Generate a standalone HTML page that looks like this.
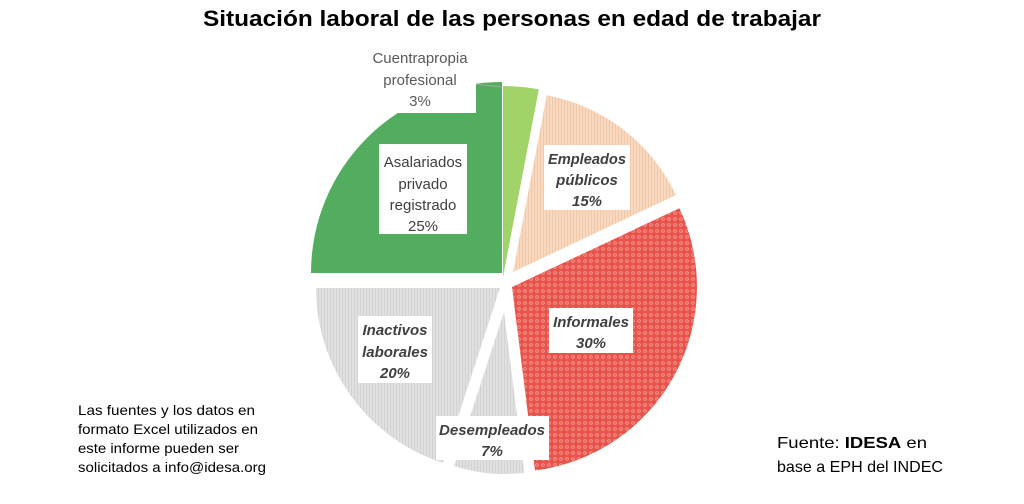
<!DOCTYPE html>
<html><head><meta charset="utf-8"><style>
html,body{margin:0;padding:0;background:#fff;width:1024px;height:504px;overflow:hidden}
text{font-family:"Liberation Sans",sans-serif}
</style></head><body>
<svg width="1024" height="504" viewBox="0 0 1024 504" xmlns="http://www.w3.org/2000/svg">
<defs>
<pattern id="red" width="6" height="6" patternUnits="userSpaceOnUse">
<rect width="6" height="6" fill="#E8544C"/>
<circle cx="3" cy="3" r="1.3" fill="none" stroke="#F6B0A8" stroke-width="0.7"/>
</pattern>
<pattern id="gray" width="3" height="3" patternUnits="userSpaceOnUse">
<rect width="3" height="3" fill="#E0E0E0"/><rect width="1" height="3" fill="#D2D2D2"/>
</pattern>
<pattern id="peach" width="3" height="3" patternUnits="userSpaceOnUse">
<rect width="3" height="3" fill="#F8D8BE"/><rect width="1" height="3" fill="#F0C8A8"/>
</pattern>
</defs>
<text x="512" y="26" text-anchor="middle" font-size="22" font-weight="bold" fill="#000" textLength="618" lengthAdjust="spacingAndGlyphs">Situación laboral de las personas en edad de trabajar</text>

<path d="M502,273 L311,273 A191,191 0 0 1 502,82 Z" fill="#52AE5E"/>
<path d="M503,277 L503,86 A191,191 0 0 1 538.8,89.4 Z" fill="#A0D468"/>
<path d="M513,272 L546.7,95.2 A180,180 0 0 1 676,195 Z" fill="url(#peach)"/>
<path d="M512,287 L679.4,208.3 A185,185 0 0 1 535,470.5 Z" fill="url(#red)"/>
<path d="M504,312 L524.3,472.7 A162,162 0 0 1 454,466 Z" fill="url(#gray)"/>
<path d="M500,288 L443.1,463 A184,184 0 0 1 316,288 Z" fill="url(#gray)"/>

<rect x="360" y="45" width="116" height="68" fill="#fff"/>
<line x1="476" y1="84" x2="501" y2="87" stroke="#A6A6A6" stroke-width="1"/>
<g font-size="15" fill="#595959" text-anchor="middle">
<text x="420" y="63">Cuentrapropia</text>
<text x="420" y="85">profesional</text>
<text x="420" y="106">3%</text>
</g>

<rect x="379" y="144" width="88" height="90" fill="#fff"/>
<g font-size="15" fill="#404040" text-anchor="middle">
<text x="423" y="167">Asalariados</text>
<text x="423" y="189">privado</text>
<text x="423" y="210">registrado</text>
<text x="423" y="231">25%</text>
</g>

<g font-size="15" font-weight="bold" font-style="italic" fill="#404040" text-anchor="middle">
<rect x="544" y="145" width="86" height="65" fill="#fff"/>
<text x="587" y="164" textLength="78" lengthAdjust="spacingAndGlyphs">Empleados</text>
<text x="587" y="185">públicos</text>
<text x="587" y="206">15%</text>
<rect x="549" y="308" width="84" height="45" fill="#fff"/>
<text x="591" y="327">Informales</text>
<text x="591" y="348">30%</text>
<rect x="358" y="316" width="74" height="67" fill="#fff"/>
<text x="395" y="335">Inactivos</text>
<text x="395" y="357">laborales</text>
<text x="395" y="378">20%</text>
<rect x="436" y="416" width="113" height="44" fill="#fff"/>
<text x="492" y="435" textLength="106" lengthAdjust="spacingAndGlyphs">Desempleados</text>
<text x="492" y="456">7%</text>
</g>

<g font-size="14" fill="#000">
<text x="78" y="415" textLength="177" lengthAdjust="spacingAndGlyphs">Las fuentes y los datos en</text>
<text x="78" y="434" textLength="180" lengthAdjust="spacingAndGlyphs">formato Excel utilizados en</text>
<text x="78" y="453" textLength="161" lengthAdjust="spacingAndGlyphs">este informe pueden ser</text>
<text x="78" y="472" textLength="188" lengthAdjust="spacingAndGlyphs">solicitados a info@idesa.org</text>
</g>
<g font-size="16" fill="#000">
<text x="777" y="448" textLength="150" lengthAdjust="spacingAndGlyphs">Fuente: <tspan font-weight="bold">IDESA</tspan> en</text>
<text x="777" y="472" textLength="166" lengthAdjust="spacingAndGlyphs">base a EPH del INDEC</text>
</g>
</svg>
</body></html>
